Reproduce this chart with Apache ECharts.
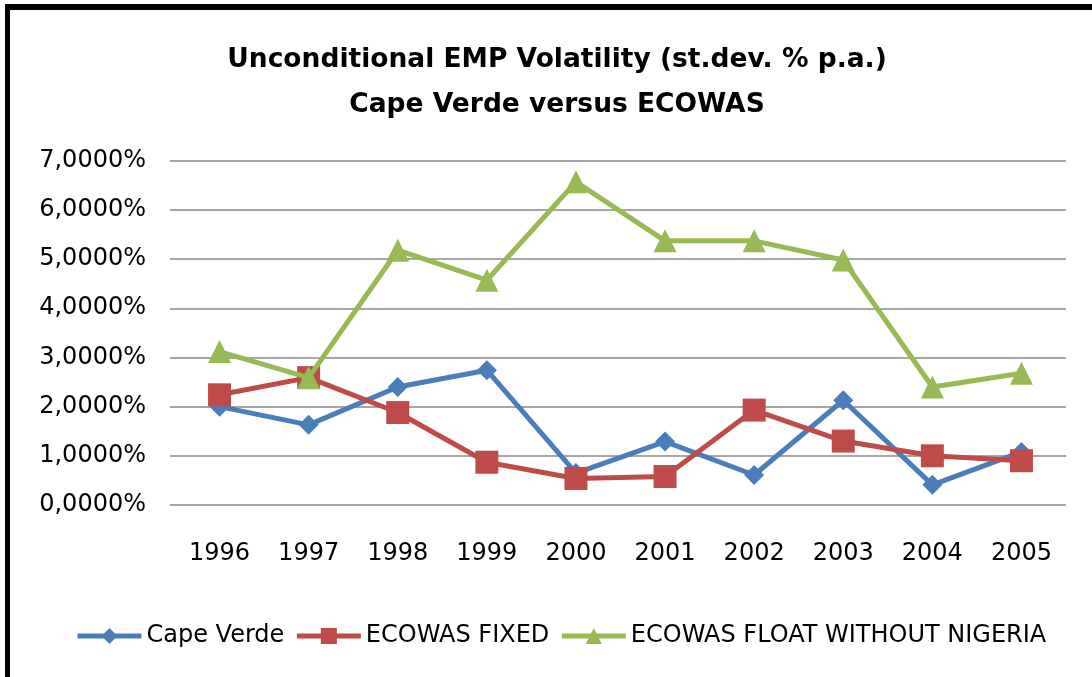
<!DOCTYPE html>
<html>
<head>
<meta charset="utf-8">
<script src="https://cdn.jsdelivr.net/npm/echarts@6/dist/echarts.min.js"></script>
<style>
  html, body {margin: 0; padding: 0; background: #fff;}
  #main {width: 1092px; height: 677px;}
</style>
</head>
<body>
<div id="main"></div>
<script>
// years on the category axis
const years = ['1996', '1997', '1998', '1999', '2000', '2001', '2002', '2003', '2004', '2005'];

// volatility, in percent
const capeVerde = [2.00, 1.63, 2.40, 2.74, 0.65, 1.29, 0.61, 2.13, 0.41, 1.08];
const ecowasFixed = [2.24, 2.59, 1.88, 0.87, 0.54, 0.58, 1.93, 1.30, 1.00, 0.90];
const ecowasFloat = [3.12, 2.59, 5.18, 4.57, 6.57, 5.37, 5.37, 4.98, 2.40, 2.68];

const colors = ['#4A7EBB', '#BE4B48', '#98B954'];
const font = 'DejaVu Sans';

const myChart = echarts.init(document.getElementById('main'));

const lineSeries = (name, data, symbol, size, i) => ({
    name: name,
    type: 'line',
    data: data,
    symbol: symbol,
    symbolSize: size,
    lineStyle: {width: 5, color: colors[i]},
    itemStyle: {color: colors[i]},
    z: 3 + i
});

myChart.setOption({
    animation: false,
    backgroundColor: '#fff',
    color: colors,
    title: {
        text: 'Unconditional EMP Volatility (st.dev. % p.a.)\nCape Verde versus ECOWAS',
        left: 552,
        textAlign: 'center',
        top: 33,
        textStyle: {
            fontFamily: font,
            fontWeight: 'bold',
            fontSize: 26.5,
            lineHeight: 45,
            color: '#000'
        }
    },
    legend: {
        data: ['Cape Verde', 'ECOWAS FIXED', 'ECOWAS FLOAT WITHOUT NIGERIA'],
        left: 70,
        top: 619,
        itemWidth: 64,
        itemHeight: 20,
        itemGap: 10,
        lineStyle: {width: 5},
        textStyle: {fontFamily: font, fontSize: 24, color: '#000'}
    },
    grid: {left: 175, right: 26, top: 160.7, bottom: 172, containLabel: false},
    xAxis: {
        type: 'category',
        data: years,
        boundaryGap: true,
        axisLine: {show: false},
        axisTick: {show: false},
        axisLabel: {fontFamily: font, fontSize: 24, color: '#000', margin: 37}
    },
    yAxis: {
        type: 'value',
        min: 0,
        max: 7,
        interval: 1,
        axisLine: {show: false},
        axisTick: {show: true, length: 5, lineStyle: {color: '#888', width: 1.5}},
        splitLine: {lineStyle: {color: '#888', width: 1.5}},
        axisLabel: {
            fontFamily: font,
            fontSize: 24,
            color: '#000',
            margin: 29,
            formatter: v => v.toFixed(4).replace('.', ',') + '%'
        }
    },
    graphic: [
        {type: 'rect', shape: {x: 5, y: 4, width: 1087, height: 6}, style: {fill: '#000'}},
        {type: 'rect', shape: {x: 5, y: 4, width: 5, height: 673}, style: {fill: '#000'}}
    ],
    series: [
        lineSeries('Cape Verde', capeVerde, 'diamond', 20, 0),
        lineSeries('ECOWAS FIXED', ecowasFixed, 'rect', 23, 1),
        lineSeries('ECOWAS FLOAT WITHOUT NIGERIA', ecowasFloat, 'triangle', 23, 2)
    ]
});
</script>
</body>
</html>
